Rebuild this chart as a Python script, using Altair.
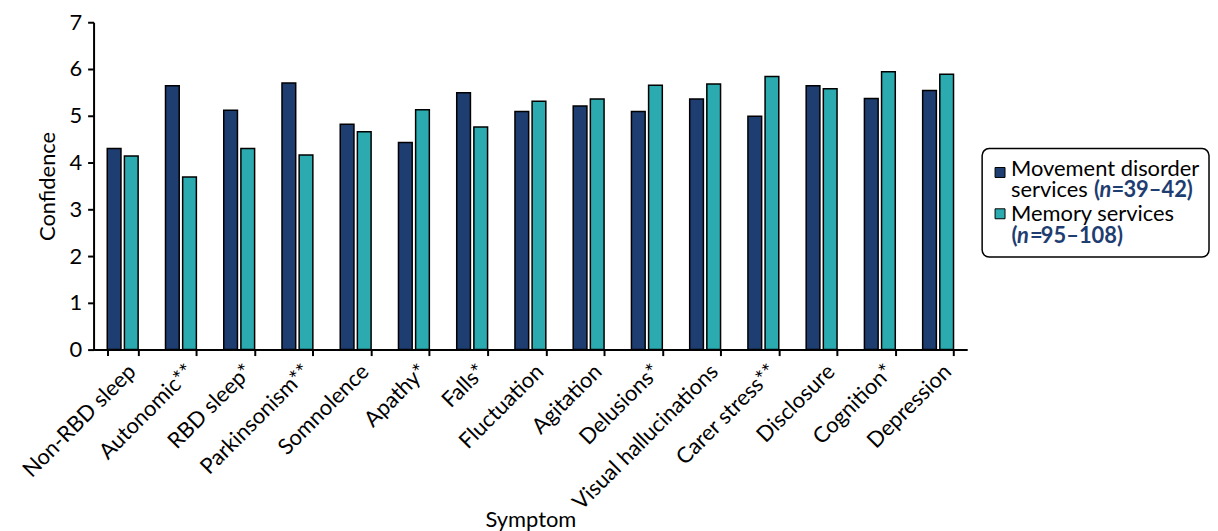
import altair as alt
import pandas as pd

symptoms = ["Non-RBD sleep", "Autonomic**", "RBD sleep*", "Parkinsonism**", "Somnolence",
            "Apathy*", "Falls*", "Fluctuation", "Agitation", "Delusions*",
            "Visual hallucinations", "Carer stress**", "Disclosure", "Cognition*", "Depression"]
movement = [4.30, 5.64, 5.12, 5.70, 4.82, 4.43, 5.49, 5.09, 5.21, 5.09, 5.36, 4.99, 5.64, 5.37, 5.54]
memory = [4.14, 3.69, 4.30, 4.16, 4.66, 5.13, 4.76, 5.31, 5.36, 5.65, 5.68, 5.84, 5.58, 5.94, 5.89]
services = ["Movement disorder services", "Memory services"]
y_ticks = [0, 1, 2, 3, 4, 5, 6, 7]

NAVY = "#1e3d70"
TEAL = "#2babb0"
FONT = "Lato"
FS = 22

rows = []
for s, a, b in zip(symptoms, movement, memory):
    rows.append({"symptom": s, "service": services[0], "value": a})
    rows.append({"symptom": s, "service": services[1], "value": b})
df = pd.DataFrame(rows)

bars = alt.Chart(df).mark_bar(stroke="black", strokeWidth=1.5).encode(
    x=alt.X("symptom:N", sort=symptoms,
            scale=alt.Scale(paddingInner=0.47, paddingOuter=0.235),
            axis=alt.Axis(title="Symptom", labelAngle=315, labelAlign="right", labelBaseline="top",
                          tickBand="extent",
                          labelFontSize=FS, titleFontSize=FS, titleFontWeight="normal",
                          labelColor="black", titleColor="black",
                          domainColor="black", domainWidth=2, tickColor="black", tickWidth=2,
                          tickSize=6, labelPadding=5, labelOffset=2, labelOverlap=False,
                          labelLimit=400, titleY=161, titleBaseline="top")),
    xOffset=alt.XOffset("service:N", sort=services, scale=alt.Scale(paddingInner=0.2)),
    y=alt.Y("value:Q", scale=alt.Scale(domain=[0, 7], nice=False),
            axis=alt.Axis(title="Confidence", values=y_ticks, grid=False,
                          labelFontSize=FS, titleFontSize=FS, titleFontWeight="normal",
                          labelColor="black", titleColor="black",
                          domainColor="black", domainWidth=2, tickColor="black", tickWidth=2,
                          tickSize=6, labelPadding=6, titlePadding=10)),
    color=alt.Color("service:N", sort=services,
                    scale=alt.Scale(domain=services, range=[NAVY, TEAL]), legend=None),
)

one = pd.DataFrame({"k": [0]})
box = alt.Chart(one).mark_rect(fill="white", stroke="black", strokeWidth=1.5, cornerRadius=7).encode(
    x=alt.value(893), x2=alt.value(1121), y=alt.value(127), y2=alt.value(236))

sq1 = alt.Chart(one).mark_square(size=100, fill=NAVY, stroke="black", strokeWidth=1, opacity=1).encode(
    x=alt.value(911), y=alt.value(151))
sq2 = alt.Chart(one).mark_square(size=100, fill=TEAL, stroke="black", strokeWidth=1, opacity=1).encode(
    x=alt.value(911), y=alt.value(192.5))


def txt(t, x, y, weight="normal", style="normal", color="black", size=FS):
    return alt.Chart(one).mark_text(text=t, align="left", baseline="alphabetic", font=FONT,
                                    fontSize=size, fontWeight=weight, fontStyle=style,
                                    color=color).encode(x=alt.value(x), y=alt.value(y))


legend_layers = [
    txt("Movement disorder", 922, 155),
    txt("services", 922, 175.7),
    txt("(", 1005.5, 175.7, "bold", color=NAVY),
    txt("n", 1011, 175.7, "bold", "italic", NAVY),
    txt("=", 1023, 175.7, "bold", color=NAVY),
    txt("39\u201342)", 1035, 175.7, "bold", color=NAVY),
    txt("Memory services", 922, 200),
    txt("(", 922.5, 222, "bold", color=NAVY),
    txt("n", 928, 222, "bold", "italic", NAVY),
    txt("=", 941, 222, "bold", color=NAVY),
    txt("95\u2013108)", 952, 222, "bold", color=NAVY),
]

chart = alt.layer(bars, box, sq1, sq2, *legend_layers).properties(
    width=878, height=329,
    autosize=alt.AutoSizeParams(type="none"),
    padding={"left": 86, "top": 13, "right": 244, "bottom": 181},
).configure(font=FONT).configure_view(stroke=None)

chart.save("out.html", embed_options={"renderer": "svg", "actions": False})
